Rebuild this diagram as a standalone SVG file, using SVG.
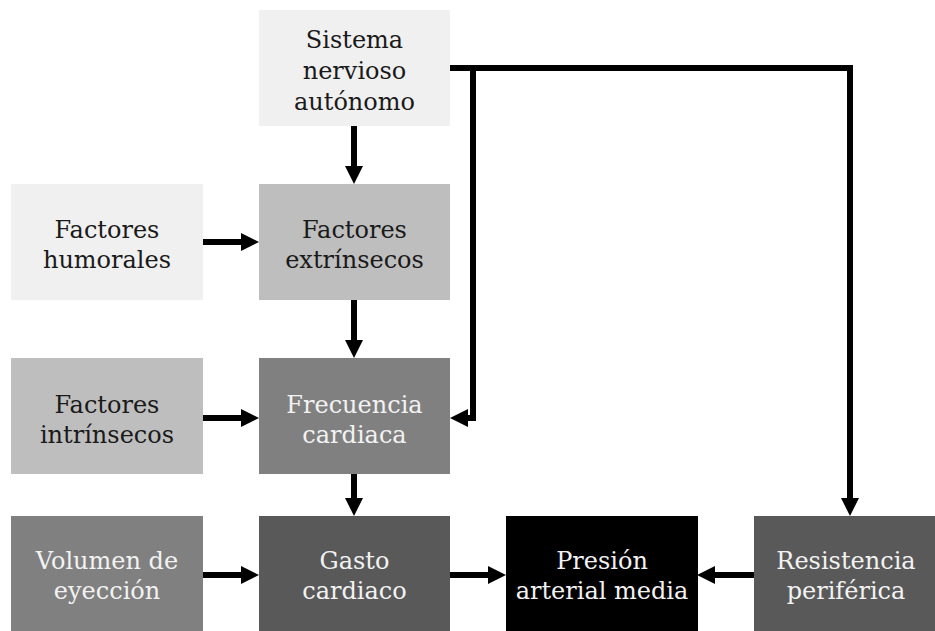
<svg xmlns="http://www.w3.org/2000/svg" width="935" height="631" viewBox="0 0 935 631">
<defs>
<marker id="ah" markerUnits="userSpaceOnUse" markerWidth="18" markerHeight="18" viewBox="0 0 18 18" refX="0" refY="9" orient="auto"><path d="M0,0 L18,9 L0,18 Z" fill="#000"/></marker>
<style>
.t{font-family:"DejaVu Serif","Liberation Serif",serif;font-size:24px;text-anchor:middle}
.dk{fill:#1a1a1a}
.lt{fill:#f2f2f2}
.c path{fill:none;stroke:#000;stroke-width:6}
.c .a{marker-end:url(#ah)}
</style>
</defs>
<rect width="935" height="631" fill="#fff"/>
<g id="sna"><rect x="259" y="10" width="191" height="116" fill="#f0f0f0"/><text class="t dk" x="354.5"><tspan x="354.5" y="48">Sistema</tspan><tspan x="354.5" y="79">nervioso</tspan><tspan x="354.5" y="110">autónomo</tspan></text></g>
<g id="humorales"><rect x="11" y="184" width="192" height="116" fill="#f0f0f0"/><text class="t dk"><tspan x="107" y="238">Factores</tspan><tspan x="107" y="268">humorales</tspan></text></g>
<g id="extrinsecos"><rect x="259" y="184" width="191" height="116" fill="#bebebe"/><text class="t dk"><tspan x="354.5" y="238">Factores</tspan><tspan x="354.5" y="268">extrínsecos</tspan></text></g>
<g id="intrinsecos"><rect x="11" y="358" width="192" height="116" fill="#bebebe"/><text class="t dk"><tspan x="107" y="413">Factores</tspan><tspan x="107" y="443">intrínsecos</tspan></text></g>
<g id="frecuencia"><rect x="259" y="358" width="191" height="116" fill="#808080"/><text class="t lt"><tspan x="354.5" y="413">Frecuencia</tspan><tspan x="354.5" y="443">cardiaca</tspan></text></g>
<g id="volumen"><rect x="11" y="516" width="192" height="115" fill="#808080"/><text class="t lt"><tspan x="107" y="569">Volumen de</tspan><tspan x="107" y="599">eyección</tspan></text></g>
<g id="gasto"><rect x="259" y="516" width="191" height="115" fill="#595959"/><text class="t lt"><tspan x="354.5" y="569">Gasto</tspan><tspan x="354.5" y="599">cardiaco</tspan></text></g>
<g id="presion"><rect x="506" y="516" width="192" height="115" fill="#000"/><text class="t lt"><tspan x="602" y="569">Presión</tspan><tspan x="602" y="599">arterial media</tspan></text></g>
<g id="resistencia"><rect x="754" y="516" width="181" height="115" fill="#595959"/><text class="t lt"><tspan x="846" y="569">Resistencia</tspan><tspan x="846" y="599">periférica</tspan></text></g>
<g id="connectors" class="c">
<path class="a" d="M354,126 V166"/>
<path class="a" d="M203,242 H241"/>
<path class="a" d="M354,300 V340"/>
<path class="a" d="M203,418 H241"/>
<path class="a" d="M354,474 V498"/>
<path class="a" d="M203,575 H241"/>
<path class="a" d="M450,575 H488"/>
<path class="a" d="M754,575 H715"/>
<path class="a" d="M450,68 H473 V418 H468"/>
<path class="a" d="M450,68 H850 V498"/>
</g>
</svg>
